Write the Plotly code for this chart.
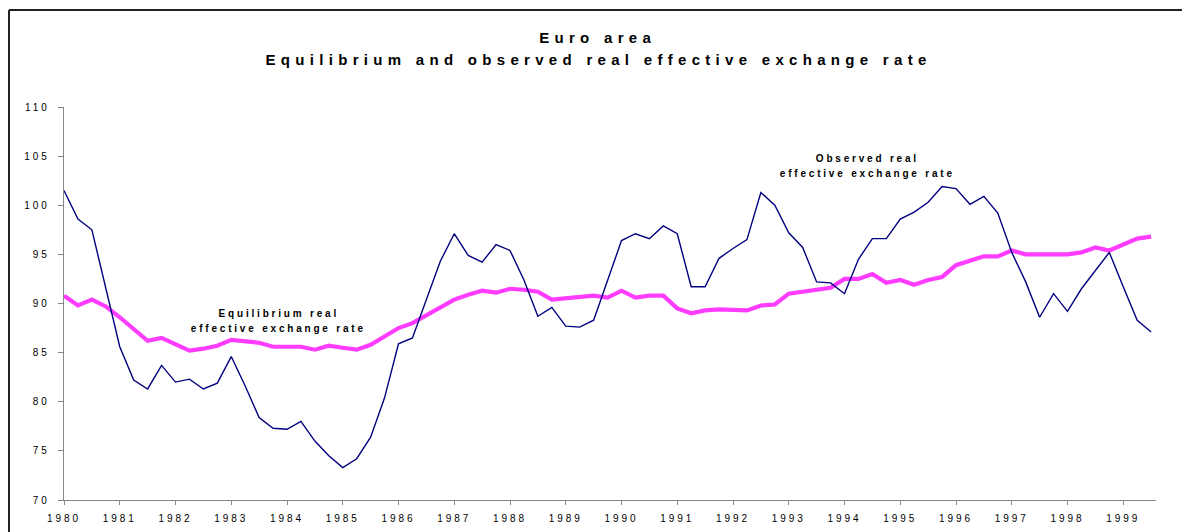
import plotly.graph_objects as go

# ---------------- data (quarterly, 1980Q1 .. 1999Q3) ----------------
start_year = 1980
years = list(range(1980, 2000))
year_labels = [str(y) for y in years]

observed = [101.5, 98.6, 97.5, 91.5, 85.6, 82.2, 81.3, 83.7, 82.0, 82.3,
            81.3, 81.9, 84.6, 81.6, 78.4, 77.3, 77.2, 78.0, 76.0, 74.5,
            73.3, 74.2, 76.4, 80.4, 85.9, 86.5, 90.5, 94.3, 97.1, 94.9,
            94.2, 96.0, 95.4, 92.4, 88.7, 89.6, 87.7, 87.6, 88.3, 92.4,
            96.4, 97.1, 96.6, 97.9, 97.1, 91.7, 91.7, 94.6, 95.6, 96.5,
            101.3, 100.0, 97.2, 95.7, 92.2, 92.1, 91.0, 94.5, 96.6, 96.6,
            98.6, 99.3, 100.3, 101.9, 101.7, 100.1, 100.9, 99.2, 95.2, 92.2,
            88.6, 91.0, 89.2, 91.5, 93.4, 95.2, 91.7, 88.3, 87.1]

equilibrium = [90.8, 89.8, 90.4, 89.7, 88.6, 87.4, 86.2, 86.5, 85.9, 85.2,
               85.4, 85.7, 86.3, 86.1, 86.0, 85.6, 85.6, 85.6, 85.3, 85.7,
               85.5, 85.3, 85.8, 86.7, 87.5, 88.0, 88.8, 89.7, 90.4, 90.9,
               91.3, 91.1, 91.5, 91.4, 91.2, 90.4, 90.5, 90.6, 90.8, 90.6,
               91.3, 90.6, 90.8, 90.8, 89.5, 89.0, 89.3, 89.4, 89.4, 89.3,
               89.8, 89.9, 91.0, 91.2, 91.4, 91.6, 92.5, 92.5, 93.0, 92.1,
               92.4, 91.9, 92.4, 92.7, 93.9, 94.4, 94.8, 94.8, 95.4, 95.0,
               95.0, 95.0, 95.0, 95.2, 95.7, 95.4, 96.0, 96.6, 96.8]

quarters = [start_year + i / 4 for i in range(len(observed))]

title_line1 = "Euro area"
title_line2 = "Equilibrium and observed real effective exchange rate"
label_eq_lines = ["Equilibrium real", "effective exchange rate"]
label_obs_lines = ["Observed real", "effective exchange rate"]

# ---------------- layout geometry ----------------
W, H = 1182, 532
ML, MR, MT, MB = 64, 26, 107, 32
PW, PH = W - ML - MR, H - MT - MB


def px_x(px):
    return (px - ML) / PW


def px_y(py):
    return 1 - (py - MT) / PH


FONT = "Liberation Sans, Arial, sans-serif"
AXIS_COLOR = "#868686"

fig = go.Figure()
fig.add_trace(go.Scatter(
    x=quarters, y=equilibrium, mode="lines", name="Equilibrium",
    line=dict(color="#FF3CFF", width=4.2), hoverinfo="x+y"))
fig.add_trace(go.Scatter(
    x=quarters, y=observed, mode="lines", name="Observed",
    line=dict(color="#000080", width=1.4), hoverinfo="x+y"))

fig.update_layout(
    width=W, height=H,
    margin=dict(l=ML, r=MR, t=MT, b=MB, pad=0, autoexpand=False),
    paper_bgcolor="white", plot_bgcolor="white",
    showlegend=False,
    font=dict(family=FONT, color="#000000"),
)

# title: two centred lines
for txt, py in [(title_line1, 37), (title_line2, 59)]:
    fig.add_annotation(
        x=px_x(598), y=px_y(py), xref="paper", yref="paper", text=txt,
        showarrow=False, xanchor="center", yanchor="middle",
        font=dict(family=FONT, size=15, weight="bold", color="#000000"))

fig.update_xaxes(
    range=[1980, 1980 + PW / 55.75],
    tickmode="array", tickvals=years, ticktext=year_labels,
    showgrid=False, zeroline=False, automargin=False,
    showline=True, linecolor=AXIS_COLOR, linewidth=1.3,
    ticks="outside", ticklen=4, tickcolor=AXIS_COLOR, tickwidth=1.3,
    tickfont=dict(family=FONT, size=10, color="#000000"),
    ticklabelstandoff=5,
)
fig.update_yaxes(
    range=[70, 110], tickmode="linear", tick0=70, dtick=5,
    showgrid=False, zeroline=False, automargin=False,
    showline=True, linecolor=AXIS_COLOR, linewidth=1.3,
    ticks="outside", ticklen=5, tickcolor=AXIS_COLOR, tickwidth=1.3,
    tickfont=dict(family=FONT, size=10, color="#000000"),
    ticklabelstandoff=6,
)

# series labels (data coordinates)
for txt, yv in zip(label_eq_lines, [89.0, 87.45]):
    fig.add_annotation(
        x=1983.85, y=yv, xref="x", yref="y", text=txt, showarrow=False,
        xanchor="center", yanchor="middle",
        font=dict(family=FONT, size=10, weight="bold", color="#000000"))
for txt, yv in zip(label_obs_lines, [104.8, 103.2]):
    fig.add_annotation(
        x=1994.42, y=yv, xref="x", yref="y", text=txt, showarrow=False,
        xanchor="center", yanchor="middle",
        font=dict(family=FONT, size=10, weight="bold", color="#000000"))

# outer chart frame (left and top edges, as in the source screenshot)
frame = dict(color="#222222", width=2)
fig.add_shape(type="line", xref="paper", yref="paper",
              x0=px_x(9), x1=px_x(9), y0=px_y(10), y1=px_y(H + 2), line=frame)
fig.add_shape(type="line", xref="paper", yref="paper",
              x0=px_x(9), x1=px_x(W + 2), y0=px_y(10), y1=px_y(10), line=frame)

spacing_js = """
document.body.style.margin = '0';
document.body.style.overflow = 'hidden';
var gd = document.getElementById('{plot_id}');
function applySpacing() {
  gd.querySelectorAll('.annotation-text').forEach(function(e){
    var fs = parseFloat(e.style.fontSize || '10');
    e.style.letterSpacing = (fs >= 14 ? '5.3px' : '2.8px');
  });
  gd.querySelectorAll('.xtick text, .ytick text').forEach(function(e){ e.style.letterSpacing = '3px'; });
}
applySpacing();
gd.on('plotly_afterplot', applySpacing);
"""

fig.write_html("out.html", post_script=spacing_js,
               config={"displayModeBar": False})
